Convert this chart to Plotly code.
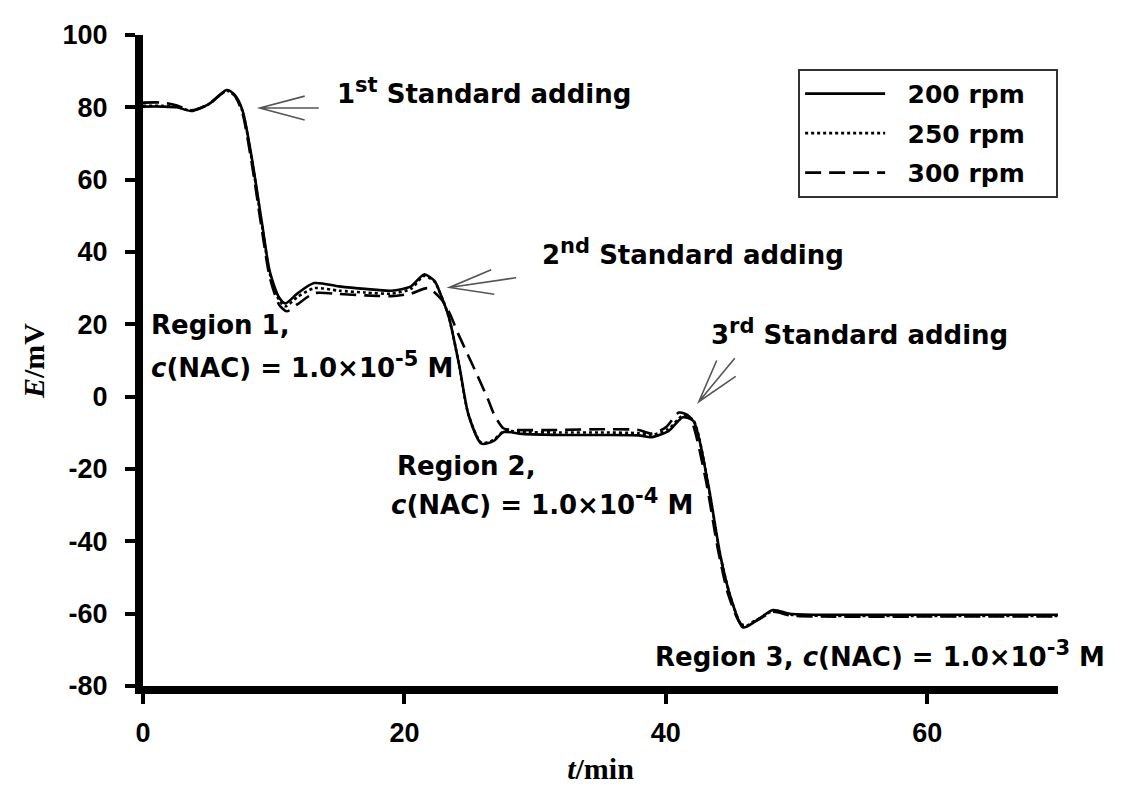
import plotly.graph_objects as go

# ---------------- data ----------------
t_200 = [0, 1.5, 2.6, 3.7, 5.0, 6.4, 7.0, 7.6, 8.3, 9.1, 9.7, 10.4, 10.9, 11.8, 13.1, 15.0, 17.0, 19.0, 20.5, 21.5,
         22.3, 22.8, 23.4, 24.2, 24.9, 25.9, 26.8, 27.6, 29.0, 32.0, 35.0, 37.9, 38.9, 40.2, 41.3, 42.1, 43.2, 44.2,
         45.0, 45.9, 46.9, 48.2, 49.5, 52.0, 60.0, 70.0]
E_200 = [80.2, 80.2, 80.0, 79.0, 80.8, 84.8, 83.5, 79.3, 66.5, 48.0, 34.6, 27.5, 25.8, 28.5, 31.4, 30.5, 29.8, 29.3,
         30.5, 33.8, 32.0, 28.0, 22.0, 8.5, -5.0, -13.0, -12.3, -9.8, -10.3, -10.6, -10.6, -10.7, -11.2, -9.5, -5.7,
         -6.7, -23.5, -44.5, -56.0, -63.8, -62.0, -59.0, -60.0, -60.3, -60.3, -60.3]

t_250 = t_200
E_250 = [80.4, 80.4, 80.1, 79.1, 80.8, 84.6, 83.3, 79.0, 66.0, 47.5, 34.0, 26.8, 25.0, 27.5, 30.0, 29.3, 28.8, 28.5,
         29.8, 33.4, 31.8, 28.0, 22.0, 8.5, -5.0, -12.8, -12.0, -9.6, -9.8, -9.9, -9.9, -10.1, -10.6, -9.0, -5.2,
         -6.5, -23.5, -44.5, -56.0, -63.6, -61.8, -59.3, -60.3, -60.6, -60.6, -60.6]

t_300 = [0, 1.5, 2.6, 3.7, 5.0, 6.4, 7.0, 7.6, 8.3, 9.1, 9.7, 10.4, 11.0, 11.8, 13.1, 15.0, 17.0, 19.0, 20.5, 21.8,
         22.8, 23.4, 24.1, 24.8, 25.6, 26.4, 26.9, 27.6, 28.5, 32.0, 35.0, 37.9, 38.9, 40.0, 41.0, 41.8, 43.0, 44.0,
         44.8, 45.8, 46.9, 48.2, 49.5, 52.0, 60.0, 70.0]
E_300 = [81.3, 81.3, 80.5, 79.2, 80.8, 84.6, 83.3, 78.5, 65.0, 46.0, 33.0, 25.5, 23.6, 25.5, 28.6, 28.4, 28.0, 27.8,
         28.5, 30.0, 27.0, 23.5, 17.5, 12.0, 5.7, -0.8, -5.2, -8.8, -9.2, -9.2, -9.0, -9.2, -10.2, -8.5, -4.4,
         -5.5, -22.0, -42.5, -55.0, -63.0, -62.0, -59.5, -60.5, -60.8, -60.8, -60.8]

series_names = ["200 rpm", "250 rpm", "300 rpm"]
x_ticks = [0, 20, 40, 60]
y_ticks = [-80, -60, -40, -20, 0, 20, 40, 60, 80, 100]


def sup(s):
    return f"<sup><span style='font-size:21px'>{s}</span></sup>"


# annotation texts: (text, t, E)
labels = [
    ("1" + sup("st") + " Standard adding", 14.7, 84.5),
    ("2" + sup("nd") + " Standard adding", 30.4, 40.0),
    ("3" + sup("rd") + " Standard adding", 43.3, 18.0),
    ("Region 1,", 0.45, 19.8),
    ("<i>c</i>(NAC) = 1.0×10" + sup("-5") + " M", 0.45, 8.8),
    ("Region 2,", 19.3, -19.2),
    ("<i>c</i>(NAC) = 1.0×10" + sup("-4") + " M", 18.8, -29.0),
    ("Region 3, <i>c</i>(NAC) = 1.0×10" + sup("-3") + " M", 39.0, -71.2),
]

# open arrows: tip, shaft end, barb1, barb2  (t, E)
arrows = [
    [(8.93, 79.8), (13.44, 79.8), (12.37, 83.1), (12.37, 76.5)],
    [(23.44, 30.2), (28.55, 32.9), (26.64, 35.1), (26.87, 28.3)],
    [(42.52, -1.4), (45.27, 10.6), (43.89, 10.0), (45.34, 5.6)],
]

# ---------------- figure ----------------
fig = go.Figure()
dashes = ["solid", "dot", "16px,8px"]
for name, tt, ee, dsh in zip(series_names, [t_200, t_250, t_300], [E_200, E_250, E_300], dashes):
    fig.add_trace(go.Scatter(
        x=tt, y=ee, name="\u00a0\u00a0" + name + "\u00a0\u00a0\u00a0", mode="lines", legendgroup=name,
        line=dict(color="black", width=2.6, shape="spline", smoothing=0.7, dash=dsh),
    ))

font_text = "DejaVu Sans, Verdana, sans-serif"
font_tick = "Liberation Sans, Arial, sans-serif"
font_title = "Liberation Serif, Times New Roman, serif"

for txt, tx, ey in labels:
    fig.add_annotation(x=tx, y=ey, xref="x", yref="y", text=txt, showarrow=False,
                       xanchor="left", yanchor="middle",
                       font=dict(family=font_text, size=26, color="black", weight="bold"))

for tip, tail, b1, b2 in arrows:
    path = (f"M {tail[0]},{tail[1]} L {tip[0]},{tip[1]} "
            f"M {b1[0]},{b1[1]} L {tip[0]},{tip[1]} L {b2[0]},{b2[1]}")
    fig.add_shape(type="path", path=path, xref="x", yref="y",
                  line=dict(color="#555555", width=1.6))

fig.update_layout(
    width=1132, height=802,
    margin=dict(l=135, r=82, t=19, b=124),
    paper_bgcolor="white", plot_bgcolor="white",
    showlegend=True,
    legend=dict(
        x=0.716, y=0.948, xanchor="left", yanchor="top",
        bgcolor="white", bordercolor="#333333", borderwidth=2,
        font=dict(family=font_text, size=25, color="black", weight="bold"),
        itemwidth=80, tracegroupgap=4,
    ),
    font=dict(family=font_tick, color="black"),
)

fig.update_xaxes(
    range=[0, 70], tickvals=x_ticks, ticktext=[str(v) for v in x_ticks],
    showline=True, linecolor="black", linewidth=8, mirror=False,
    ticks="outside", ticklen=10, tickwidth=4, tickcolor="black", ticklabelstandoff=6,
    showgrid=False, zeroline=False,
    tickfont=dict(family=font_tick, size=27, color="black", weight="bold"),
    title=dict(text="<i>t</i>/min", font=dict(family=font_title, size=30, weight="bold"), standoff=14),
)
fig.update_yaxes(
    range=[-80, 100], tickvals=y_ticks, ticktext=[str(v) for v in y_ticks],
    showline=True, linecolor="black", linewidth=8, mirror=False,
    ticks="outside", ticklen=10, tickwidth=4, tickcolor="black", ticklabelstandoff=12,
    showgrid=False, zeroline=False,
    tickfont=dict(family=font_tick, size=27, color="black", weight="bold"),
    title=dict(text="<i>E</i>/mV", font=dict(family=font_title, size=30, weight="bold"), standoff=12),
)

fig.write_html("out.html")
